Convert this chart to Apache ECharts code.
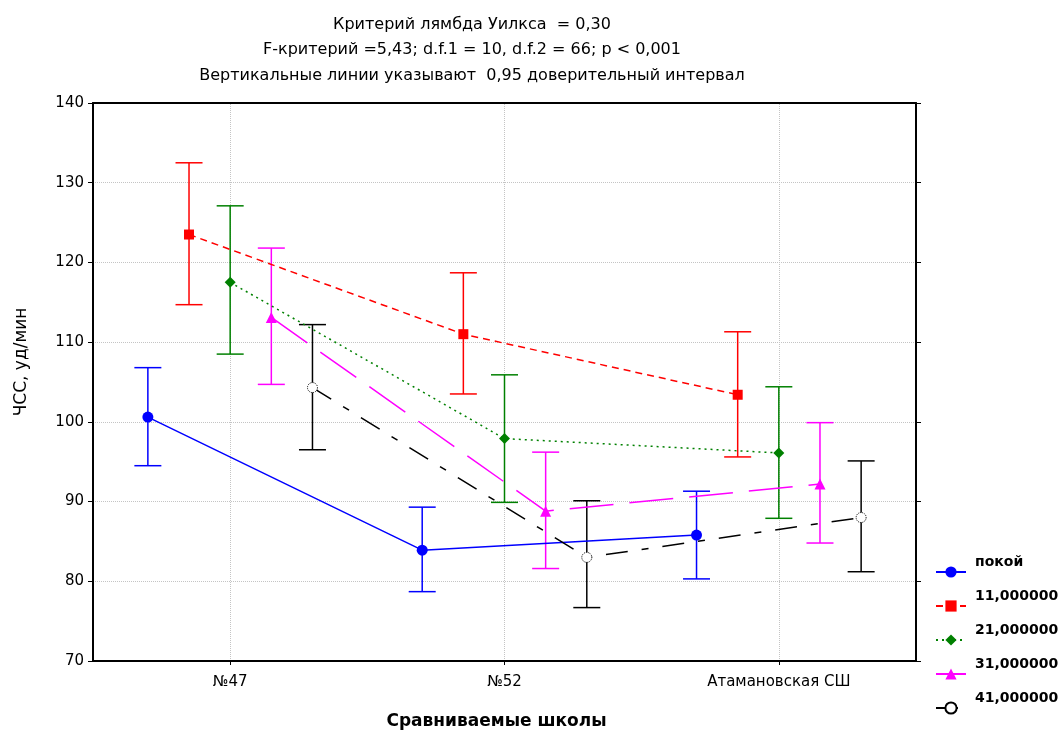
<!DOCTYPE html>
<html><head><meta charset="utf-8">
<script src="https://cdn.jsdelivr.net/npm/echarts@6/dist/echarts.min.js"></script>
<style>html,body{margin:0;padding:0;background:#fff}#c{width:1061px;height:735px}</style>
</head><body><div id="c"></div>
<script>
// ---- data ----
const categories = ['№47', '№52', 'Атамановская СШ'];
const seriesNames = ['покой', '11,000000', '21,000000', '31,000000', '41,000000'];
const titleLines = [
  'Критерий лямбда Уилкса  = 0,30',
  'F-критерий =5,43; d.f.1 = 10, d.f.2 = 66; p < 0,001',
  'Вертикальные линии указывают  0,95 доверительный интервал'
];
const xAxisTitle = 'Сравниваемые школы';
const yAxisTitle = 'ЧСС, уд/мин';
const yMin = 70, yMax = 140, yStep = 10;

const meanPokoi = [100.6, 83.9, 85.8];
const lowPokoi  = [94.5, 78.7, 80.3];
const highPokoi = [106.8, 89.3, 91.3];

const mean11 = [123.5, 111.0, 103.4];
const low11  = [114.7, 103.5, 95.6];
const high11 = [132.5, 118.7, 111.3];

const mean21 = [117.5, 97.9, 96.1];
const low21  = [108.5, 89.9, 87.9];
const high21 = [127.1, 105.9, 104.4];

const mean31 = [113.1, 88.8, 92.2];
const low31  = [104.7, 81.6, 84.8];
const high31 = [121.8, 96.2, 99.9];

const mean41 = [104.3, 83.0, 88.0];
const low41  = [96.5, 76.7, 81.2];
const high41 = [112.2, 90.1, 95.1];

// ---- styling ----
const FONT = 'DejaVu Sans';
const groups = [
  {name: seriesNames[0], mean: meanPokoi, low: lowPokoi, high: highPokoi, color: '#0000ff', off: -0.3,
   symbol: 'circle', size: 11, dash: 'solid', fill: '#0000ff'},
  {name: seriesNames[1], mean: mean11, low: low11, high: high11, color: '#ff0000', off: -0.15,
   symbol: 'rect', size: 10, dash: [7, 5], fill: '#ff0000'},
  {name: seriesNames[2], mean: mean21, low: low21, high: high21, color: '#008000', off: 0,
   symbol: 'diamond', size: 11, dash: [2, 4], fill: '#008000'},
  {name: seriesNames[3], mean: mean31, low: low31, high: high31, color: '#ff00ff', off: 0.15,
   symbol: 'triangle', size: 11, dash: [44, 16], fill: '#ff00ff'},
  {name: seriesNames[4], mean: mean41, low: low41, high: high41, color: '#000000', off: 0.3,
   symbol: 'circle', size: 10, dash: [22, 14, 7, 14], fill: '#ffffff'}
];

function makeErr(color) {
  return function (params, api) {
    const x = api.value(0), lo = api.value(1), hi = api.value(2);
    const a = api.coord([x, lo]), b = api.coord([x, hi]);
    const hw = 13.5;
    const st = {stroke: color, lineWidth: 1.5};
    return {type: 'group', children: [
      {type: 'line', shape: {x1: a[0], y1: a[1], x2: b[0], y2: b[1]}, style: st},
      {type: 'line', shape: {x1: a[0] - hw, y1: a[1], x2: a[0] + hw, y2: a[1]}, style: st},
      {type: 'line', shape: {x1: b[0] - hw, y1: b[1], x2: b[0] + hw, y2: b[1]}, style: st}
    ]};
  };
}

const series = [];
groups.forEach((g, gi) => {
  const errSeries = {
    type: 'custom', name: 'ci-' + g.name, xAxisIndex: 1, yAxisIndex: 0, z: 2,
    renderItem: makeErr(g.color),
    encode: {x: 0, y: [1, 2]},
    data: categories.map((c, i) => [i + g.off, g.low[i], g.high[i]]),
    silent: true
  };
  if (gi === 0) {
    errSeries.markLine = {
      silent: true, symbol: ['none', 'none'], label: {show: false},
      lineStyle: {color: '#c4c4c4', type: 'dotted', width: 1},
      data: categories.map((c, i) => ({xAxis: i})),
      z: 0
    };
  }
  series.push(errSeries);
  series.push({
    type: 'line', name: g.name, xAxisIndex: 1, yAxisIndex: 0, z: 3,
    data: categories.map((c, i) => [i + g.off, g.mean[i]]),
    symbol: g.symbol, symbolSize: g.size,
    lineStyle: {color: g.color, width: 1.5, type: g.dash},
    itemStyle: g.fill === '#ffffff'
      ? {color: '#ffffff', borderColor: '#000000', borderWidth: 1, borderType: 'dotted'}
      : {color: g.fill, borderWidth: 0},
    color: g.fill === '#ffffff' ? '#000000' : g.color
  });
});

const chart = echarts.init(document.getElementById('c'), null, {renderer: 'canvas'});
chart.setOption({
  animation: false,
  backgroundColor: '#ffffff',
  grid: {left: 93, right: 145, top: 103, bottom: 69, containLabel: false},
  graphic: [
    {type: 'text', x: 472, y: 12, style: {text: titleLines.join('\n'), font: '16px "' + FONT + '"',
      fill: '#000', align: 'center', verticalAlign: 'top', lineHeight: 25.5}},
    {type: 'text', x: 22, y: 362, rotation: Math.PI / 2,
      style: {text: yAxisTitle, font: '17px "' + FONT + '"', fill: '#000', align: 'center', verticalAlign: 'middle'}}
  ],
  legend: {
    data: seriesNames, orient: 'vertical', left: 935, top: 552, padding: 0,
    itemWidth: 30, itemHeight: 14, itemGap: -6,
    formatter: function (name) { return name + '\n '; },
    textStyle: {fontFamily: FONT, fontWeight: 'bold', fontSize: 14, color: '#000', lineHeight: 20, padding: [0, 0, 0, 4]}
  },
  xAxis: [
    {type: 'category', data: categories, position: 'bottom', boundaryGap: true,
      axisLine: {show: true, onZero: false, lineStyle: {color: '#000', width: 2}},
      axisTick: {show: true, alignWithLabel: true, length: 4, lineStyle: {color: '#000'}},
      axisLabel: {color: '#000', fontFamily: FONT, fontSize: 15, margin: 14},
      splitLine: {show: false},
      name: xAxisTitle, nameLocation: 'middle', nameGap: 52,
      nameTextStyle: {color: '#000', fontFamily: FONT, fontWeight: 'bold', fontSize: 17, padding: [0, 16, 0, 0]}},
    {type: 'value', min: -0.5, max: 2.5, show: false},
    {type: 'category', data: categories, position: 'top', boundaryGap: true,
      axisLine: {show: true, onZero: false, lineStyle: {color: '#000', width: 2}},
      axisTick: {show: false}, axisLabel: {show: false}, splitLine: {show: false}}
  ],
  yAxis: [
    {type: 'value', min: yMin, max: yMax, interval: yStep, position: 'left',
      axisLine: {show: true, onZero: false, lineStyle: {color: '#000', width: 2}},
      axisTick: {show: true, length: 5, lineStyle: {color: '#000'}},
      axisLabel: {color: '#000', fontFamily: FONT, fontSize: 15, margin: 9},
      splitLine: {show: true, lineStyle: {color: '#c4c4c4', type: 'dotted', width: 1}}},
    {type: 'value', min: yMin, max: yMax, interval: yStep, position: 'right',
      axisLine: {show: true, onZero: false, lineStyle: {color: '#000', width: 2}},
      axisTick: {show: true, length: 5, lineStyle: {color: '#000'}},
      axisLabel: {show: false}, splitLine: {show: false}}
  ],
  series: series
});
</script>
</body></html>
